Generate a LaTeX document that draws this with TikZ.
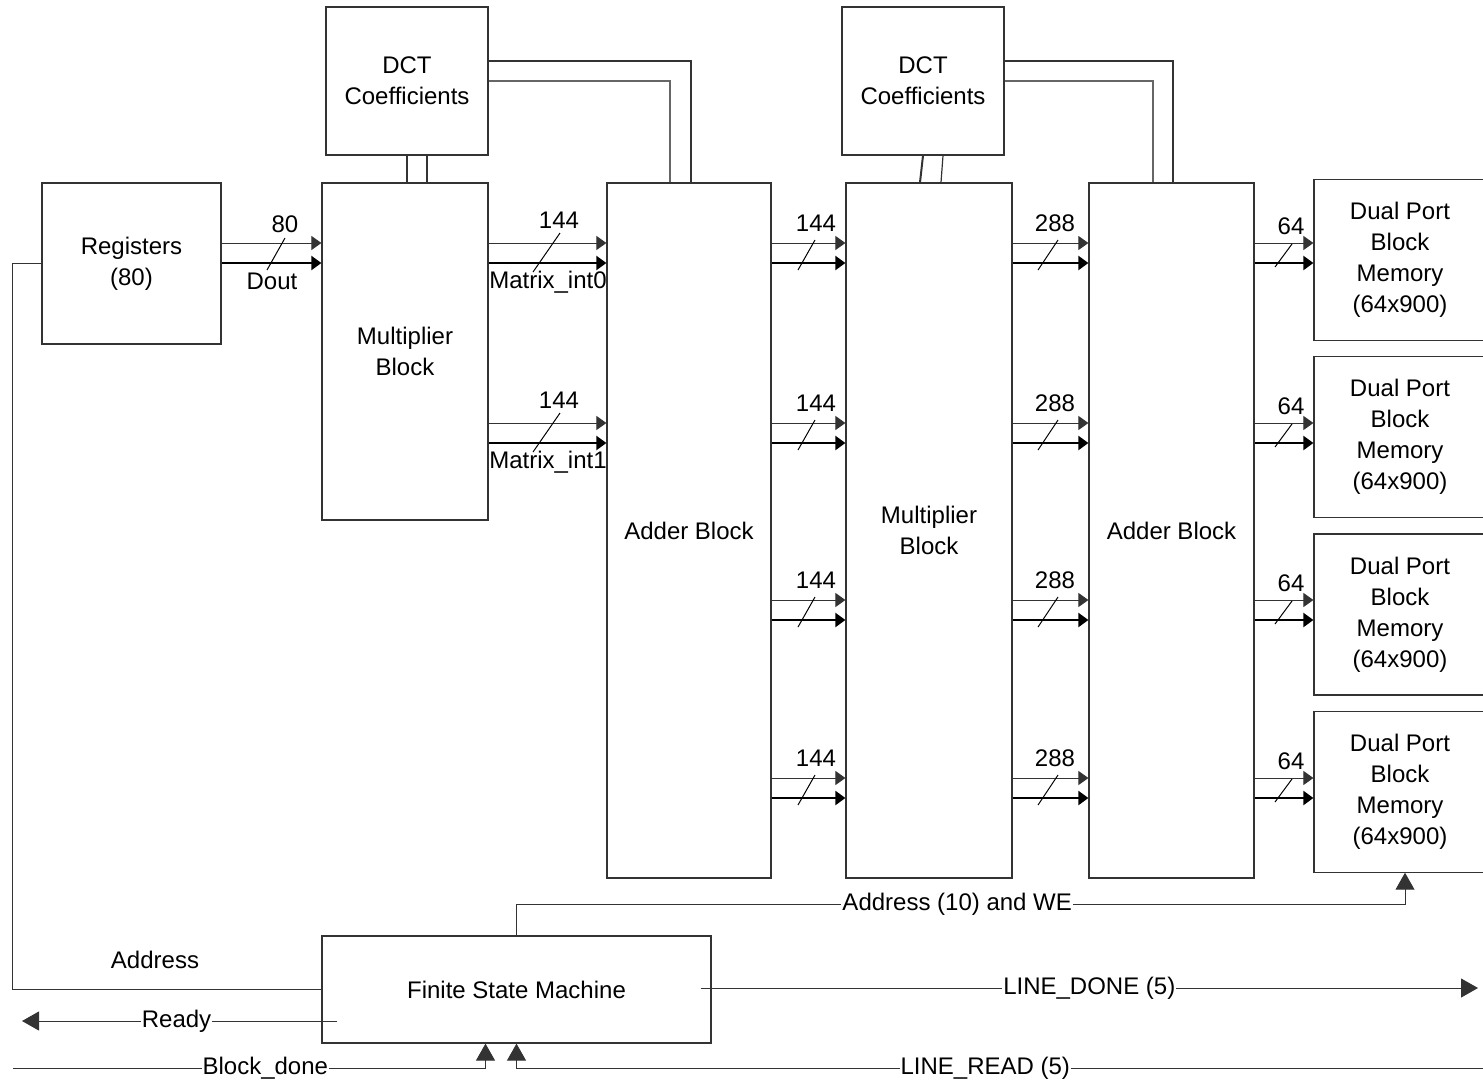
\documentclass[tikz,border=0pt]{standalone}
\usepackage{fontspec}
\setmainfont{Liberation Sans}
\usetikzlibrary{positioning, arrows.meta}

\begin{document}
\begin{tikzpicture}[
    x=0.5pt, y=-0.5pt,
    font=\fontsize{12}{15.5}\selectfont,
    blk/.style={draw=black!80, line width=0.6pt, align=center, inner sep=0pt, fill=white},
    busa/.style={draw=black!80, line width=0.5pt, -{Triangle[length=5pt, width=7pt]}},
    busb/.style={draw=black, line width=1pt, -{Triangle[length=5pt, width=7pt]}},
    slash/.style={line width=0.5pt},
    wire/.style={draw=black!80, line width=0.6pt},
    ctl/.style={draw=black!80, line width=0.5pt, -{Triangle[length=8.5pt, width=9.5pt]}},
    lbl/.style={inner sep=1pt},
    tag/.style={fill=white, inner sep=0.5pt},
]
\useasboundingbox (0,0) rectangle (1483,1083);

% ── blocks ───────────────────────────────────────────────────────────────────
\node[blk, minimum width=89.5pt, minimum height=80.5pt] (regs) at (131.5,263.5) {Registers\\(80)};
\node[blk, minimum width=81pt, minimum height=74pt] (dct1) at (407,81) {DCT\\Coefficients};
\node[blk, minimum width=83pt, minimum height=168.5pt] (mul1) at (405,351.5) {Multiplier\\Block};
\node[blk, minimum width=82pt, minimum height=347.5pt] (add1) at (689,530.5) {Adder Block};
\node[blk, minimum width=81pt, minimum height=74pt] (dct2) at (923,81) {DCT\\Coefficients};
\node[blk, minimum width=83pt, minimum height=347.5pt] (mul2) at (929,530.5) {Multiplier\\Block};
\node[blk, minimum width=82.5pt, minimum height=347.5pt] (add2) at (1171.5,530.5) {Adder Block};

% ── dual port memories (right column) ────────────────────────────────────────
\node[blk, minimum width=86pt, minimum height=80.5pt] (mem1) at (1400,260)
    {Dual Port\\Block\\Memory\\(64x900)};
\node[blk, minimum width=86pt, minimum height=80.5pt, below=7.5pt of mem1] (mem2)
    {Dual Port\\Block\\Memory\\(64x900)};
\node[blk, minimum width=86pt, minimum height=80.5pt, below=7.5pt of mem2] (mem3)
    {Dual Port\\Block\\Memory\\(64x900)};
\node[blk, minimum width=86pt, minimum height=80.5pt, below=7.5pt of mem3] (mem4)
    {Dual Port\\Block\\Memory\\(64x900)};

% ── control ──────────────────────────────────────────────────────────────────
\node[blk, minimum width=194.5pt, minimum height=53.5pt] (fsm) at (516.5,989.5) {Finite State Machine};

% ── coefficient feeds ────────────────────────────────────────────────────────
\draw[wire, line width=1pt] (dct1.south) -- ([xshift=1pt]mul1.north);
\draw[wire] ([xshift=10pt]dct1.south) -- ([xshift=11pt]mul1.north);
\draw[wire, line width=1pt] ([yshift=10pt]dct1.east) -| ([xshift=1pt]add1.north);
\draw[wire, black!60] (dct1.east) -| ([xshift=-9.5pt]add1.north);

\draw[wire, line width=1pt] (dct2.south) -- ([xshift=-4.5pt]mul2.north);
\draw[wire] ([xshift=10pt]dct2.south) -- ([xshift=6pt]mul2.north);
\draw[wire, line width=1pt] ([yshift=10pt]dct2.east) -| ([xshift=0.75pt]add2.north);
\draw[wire, black!60] (dct2.east) -| ([xshift=-9.25pt]add2.north);

% ── data buses ───────────────────────────────────────────────────────────────
\draw[busa] (regs.east |- 0,243) -- (mul1.west |- 0,243);
\draw[busb] (regs.east |- 0,263) -- (mul1.west |- 0,263);
\draw[slash] (285,238) -- (267,270);
\node[lbl] (w80) at (285,224) {80};
\node[lbl] (dout) at (272,281) {Dout};

\foreach \y/\n in {243/0, 423/1} {
  \draw[busa] (mul1.east |- 0,\y) -- (add1.west |- 0,\y);
  \draw[busb] (mul1.east |- 0,\y+20) -- (add1.west |- 0,\y+20);
  \draw[slash] (560,\y-10) -- (533,\y+29);
  \node[lbl] (wm\n) at (559,\y-23) {144};
  \node[lbl] (mi\n) at (548,\y+39) {Matrix\_int\n};
}

\foreach \y [count=\i] in {243,423,600,778} {
  % adder -> multiplier
  \draw[busa] (add1.east |- 0,\y) -- (mul2.west |- 0,\y);
  \draw[busb] (add1.east |- 0,\y+20) -- (mul2.west |- 0,\y+20);
  \draw[slash] (815,\y-3) -- (798,\y+27);
  \node[lbl] (wa\i) at (816,\y-20) {144};
  % multiplier -> adder
  \draw[busa] (mul2.east |- 0,\y) -- (add2.west |- 0,\y);
  \draw[busb] (mul2.east |- 0,\y+20) -- (add2.west |- 0,\y+20);
  \draw[slash] (1058,\y-3) -- (1038,\y+27);
  \node[lbl] (wb\i) at (1055,\y-20) {288};
  % adder -> memory
  \draw[busa] (add2.east |- 0,\y) -- (mem\i.west |- 0,\y);
  \draw[busb] (add2.east |- 0,\y+20) -- (mem\i.west |- 0,\y+20);
  \draw[slash] (1292,\y+1) -- (1275,\y+24);
  \node[lbl] (wc\i) at (1291,\y-17) {64};
}

% ── control lines ────────────────────────────────────────────────────────────
\draw[wire] (regs.west) -- ++(-29,0) |- (fsm.west);
\node[lbl] (addr) at (155,960) {Address};

\draw[ctl] (fsm.north) |- node[pos=0.748, tag] (awe) {Address (10) and WE}
    ([shift={(5,32)}]mem4.south) -- ([xshift=2.5pt]mem4.south);

\coordinate (ldout) at (1478,988);
\draw[ctl] ([xshift=-5.5pt]fsm.east |- 0,988) -- node[pos=0.5, tag] (ldone) {LINE\_DONE (5)} (ldout);

\coordinate (rdyout) at (22,1021);
\draw[ctl] ([shift={(16,31.5)}]fsm.west) -- node[pos=0.51, tag] (rdy) {Ready} (rdyout);

\coordinate (bdin) at (13,1068);
\draw[ctl] (bdin) -| node[pos=0.267, tag] (bdone) {Block\_done} ([xshift=-15.5pt]fsm.south);

\coordinate (lrin) at (1483,1068);
\draw[ctl] (lrin) -| node[pos=0.2575, tag] (lread) {LINE\_READ (5)} (fsm.south);

\end{tikzpicture}
\end{document}
